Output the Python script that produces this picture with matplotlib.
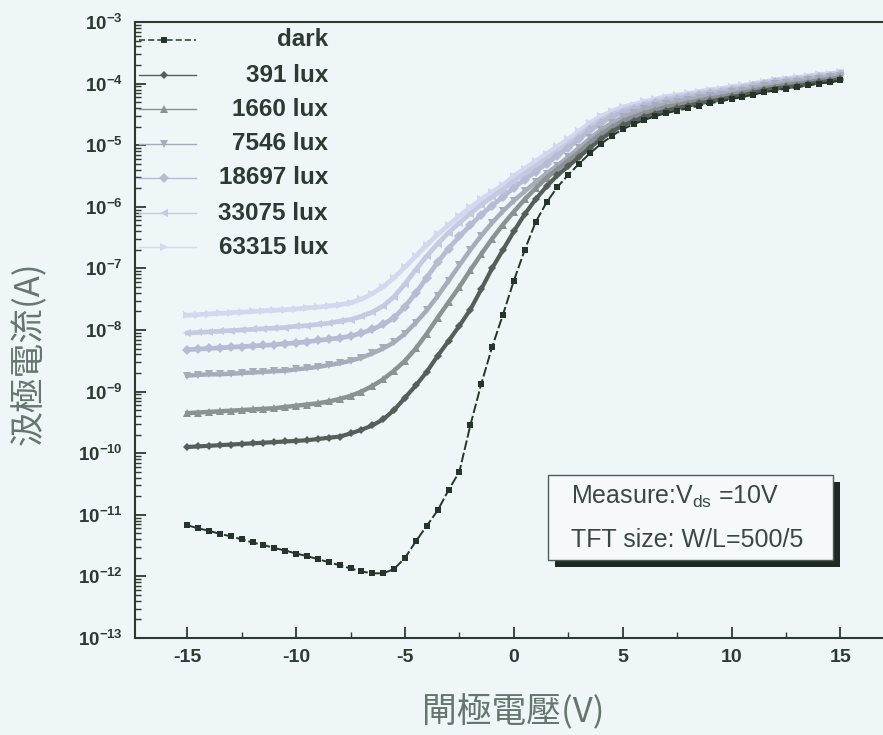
import numpy as np
import matplotlib
matplotlib.use('Agg')
import matplotlib.pyplot as plt
from matplotlib import ticker
from matplotlib.lines import Line2D
from matplotlib.patches import Rectangle

plt.rcParams['font.family'] = ['Liberation Sans', 'DejaVu Sans']
plt.rcParams['mathtext.fontset'] = 'custom'
plt.rcParams['mathtext.rm'] = 'Liberation Sans'
plt.rcParams['mathtext.it'] = 'Liberation Sans'
plt.rcParams['mathtext.bf'] = 'Liberation Sans:bold'
plt.rcParams['axes.unicode_minus'] = False

# Gate voltage sweep (V)
gate_voltage = [-15.0, -14.5, -14.0, -13.5, -13.0, -12.5, -12.0, -11.5, -11.0, -10.5,
                -10.0, -9.5, -9.0, -8.5, -8.0, -7.5, -7.0, -6.5, -6.0, -5.5,
                -5.0, -4.5, -4.0, -3.5, -3.0, -2.5, -2.0, -1.5, -1.0, -0.5,
                0.0, 0.5, 1.0, 1.5, 2.0, 2.5, 3.0, 3.5, 4.0, 4.5,
                5.0, 5.5, 6.0, 6.5, 7.0, 7.5, 8.0, 8.5, 9.0, 9.5,
                10.0, 10.5, 11.0, 11.5, 12.0, 12.5, 13.0, 13.5, 14.0, 14.5, 15.0]

# log10 of drain current (A)
log_id_dark = [-11.17, -11.22, -11.26, -11.31, -11.35, -11.40, -11.45, -11.49, -11.54, -11.58,
               -11.63, -11.67, -11.72, -11.77, -11.82, -11.87, -11.92, -11.95, -11.95, -11.88,
               -11.70, -11.43, -11.18, -10.93, -10.60, -10.30, -9.55, -8.88, -8.28, -7.75,
               -7.20, -6.70, -6.25, -5.93, -5.68, -5.48, -5.30, -5.13, -4.98, -4.85,
               -4.74, -4.66, -4.59, -4.53, -4.48, -4.44, -4.40, -4.36, -4.32, -4.29,
               -4.25, -4.22, -4.18, -4.14, -4.11, -4.08, -4.06, -4.03, -4.00, -3.98, -3.95]
log_id_391 = [-9.90, -9.89, -9.88, -9.87, -9.86, -9.85, -9.84, -9.83, -9.82, -9.81,
              -9.80, -9.79, -9.77, -9.75, -9.73, -9.68, -9.62, -9.55, -9.45, -9.30,
              -9.10, -8.90, -8.68, -8.42, -8.18, -7.93, -7.67, -7.34, -7.00, -6.70,
              -6.40, -6.12, -5.88, -5.67, -5.49, -5.34, -5.19, -5.04, -4.90, -4.78,
              -4.68, -4.61, -4.54, -4.49, -4.44, -4.40, -4.36, -4.32, -4.29, -4.26,
              -4.22, -4.19, -4.15, -4.11, -4.08, -4.06, -4.04, -4.01, -3.98, -3.96, -3.93]
log_id_1660 = [-9.35, -9.34, -9.33, -9.32, -9.31, -9.30, -9.29, -9.28, -9.27, -9.25,
               -9.23, -9.21, -9.19, -9.16, -9.12, -9.07, -9.00, -8.91, -8.80, -8.66,
               -8.50, -8.30, -8.06, -7.80, -7.55, -7.30, -7.03, -6.77, -6.52, -6.29,
               -6.08, -5.88, -5.70, -5.53, -5.39, -5.25, -5.11, -4.95, -4.82, -4.71,
               -4.61, -4.54, -4.48, -4.43, -4.38, -4.35, -4.31, -4.28, -4.24, -4.22,
               -4.18, -4.15, -4.11, -4.08, -4.05, -4.02, -4.00, -3.98, -3.95, -3.93, -3.90]
log_id_7546 = [-8.74, -8.73, -8.72, -8.72, -8.71, -8.70, -8.69, -8.68, -8.67, -8.66,
               -8.64, -8.62, -8.60, -8.57, -8.54, -8.50, -8.45, -8.38, -8.30, -8.20,
               -8.06, -7.88, -7.68, -7.45, -7.20, -6.95, -6.70, -6.47, -6.26, -6.07,
               -5.90, -5.75, -5.60, -5.46, -5.33, -5.19, -5.04, -4.89, -4.75, -4.64,
               -4.55, -4.48, -4.42, -4.37, -4.33, -4.30, -4.26, -4.23, -4.20, -4.18,
               -4.14, -4.12, -4.08, -4.04, -4.01, -3.99, -3.97, -3.95, -3.92, -3.90, -3.87]
log_id_18697 = [-8.32, -8.31, -8.30, -8.29, -8.28, -8.27, -8.26, -8.25, -8.24, -8.22,
                -8.21, -8.19, -8.17, -8.15, -8.13, -8.10, -8.05, -7.99, -7.91, -7.80,
                -7.62, -7.40, -7.15, -6.90, -6.68, -6.48, -6.30, -6.13, -5.98, -5.84,
                -5.69, -5.56, -5.43, -5.30, -5.17, -5.04, -4.90, -4.76, -4.64, -4.54,
                -4.47, -4.42, -4.37, -4.32, -4.28, -4.25, -4.22, -4.19, -4.16, -4.14,
                -4.10, -4.08, -4.04, -4.01, -3.98, -3.96, -3.94, -3.92, -3.89, -3.88, -3.85]
log_id_33075 = [-8.05, -8.04, -8.03, -8.02, -8.01, -8.00, -7.99, -7.98, -7.97, -7.96,
                -7.94, -7.93, -7.91, -7.89, -7.86, -7.83, -7.78, -7.71, -7.61, -7.46,
                -7.25, -7.02, -6.80, -6.60, -6.42, -6.26, -6.11, -5.97, -5.84, -5.72,
                -5.58, -5.46, -5.34, -5.22, -5.10, -4.98, -4.84, -4.70, -4.59, -4.50,
                -4.43, -4.38, -4.33, -4.29, -4.25, -4.22, -4.19, -4.16, -4.13, -4.11,
                -4.08, -4.06, -4.02, -3.99, -3.96, -3.94, -3.92, -3.90, -3.87, -3.86, -3.83]
log_id_63315 = [-7.76, -7.75, -7.74, -7.73, -7.72, -7.71, -7.70, -7.69, -7.68, -7.67,
                -7.66, -7.64, -7.63, -7.61, -7.59, -7.56, -7.50, -7.41, -7.30, -7.15,
                -6.98, -6.80, -6.62, -6.45, -6.30, -6.15, -6.01, -5.88, -5.76, -5.65,
                -5.50, -5.38, -5.26, -5.14, -5.02, -4.90, -4.77, -4.64, -4.53, -4.45,
                -4.38, -4.34, -4.29, -4.25, -4.21, -4.19, -4.16, -4.13, -4.10, -4.08,
                -4.05, -4.03, -4.00, -3.97, -3.94, -3.92, -3.90, -3.88, -3.85, -3.84, -3.81]

series_labels = ['dark', '391 lux', '1660 lux', '7546 lux', '18697 lux', '33075 lux', '63315 lux']
series_logs = [log_id_dark, log_id_391, log_id_1660, log_id_7546,
               log_id_18697, log_id_33075, log_id_63315]
series_colors = ['#263529', '#555e59', '#8b9294', '#a6acb9', '#b6bcd3', '#c5cae2', '#d3d8ef']
series_markers = ['s', 'D', '^', 'v', 'D', '<', '>']
series_ms = [4.2, 3.6, 5.4, 5.4, 4.8, 5.4, 5.4]
series_lw = [1.4, 3.0, 3.2, 3.2, 3.4, 3.4, 3.4]

x_ticks = [-15, -10, -5, 0, 5, 10, 15]

BG = '#eff6f7'
INK = '#2c3a32'

fig = plt.figure(figsize=(8.83, 7.35), dpi=100, facecolor=BG)
ax = fig.add_axes([0.1529, 0.1320, 0.8630, 0.8381], facecolor=BG)

V = np.array(gate_voltage)
for i in reversed(range(len(series_labels))):
    current = 10.0 ** np.array(series_logs[i])
    ls = (0, (5, 1.5)) if i == 0 else '-'
    ax.plot(V, current, color=series_colors[i], marker=series_markers[i],
            ms=series_ms[i], mew=0, lw=series_lw[i], ls=ls, zorder=10 - i)

ax.set_yscale('log')
ax.set_xlim(-17.4, 17.6)
ax.set_ylim(1e-13, 1e-3)
ax.xaxis.set_major_locator(ticker.FixedLocator(x_ticks))
ax.xaxis.set_minor_locator(ticker.MultipleLocator(2.5))
ax.yaxis.set_major_locator(ticker.LogLocator(base=10, numticks=20))
ax.yaxis.set_minor_locator(ticker.LogLocator(base=10, subs=np.arange(2, 10), numticks=20))
ax.yaxis.set_minor_formatter(ticker.NullFormatter())
ax.yaxis.set_major_formatter(ticker.FuncFormatter(
    lambda v, p: r'$\mathbf{10^{%d}}$' % int(round(np.log10(v)))))
ax.xaxis.set_major_formatter(ticker.FuncFormatter(lambda v, p: '%d' % v))

ax.tick_params(which='both', direction='in', color=INK, top=False, right=False)
ax.tick_params(which='major', length=8, width=1.3, labelsize=13.5, labelcolor=INK)
ax.tick_params(which='minor', length=4, width=1.0)
ax.tick_params(axis='y', which='major', pad=9)
ax.tick_params(axis='x', which='major', pad=8, labelsize=14)
for lab in ax.get_xticklabels():
    lab.set_fontweight('bold')
for sp in ax.spines.values():
    sp.set_color(INK)
    sp.set_linewidth(1.5)

cjk = ['Noto Sans CJK TC', 'DejaVu Sans']
ax.set_xlabel('閘極電壓(V)', fontsize=25, color='#66756d', family=cjk)
ax.set_ylabel('汲極電流(A)', fontsize=25, color='#66756d', family=cjk)
ax.xaxis.set_label_coords(0.496, -0.092)
ax.yaxis.set_label_coords(-0.116, 0.463)

# legend (drawn manually so that the labels are right-aligned like the original)
def fx(px):
    return px / 883.0

def fy(py):
    return (735.0 - py) / 735.0

row_y = [40, 75, 109, 144, 178, 213, 247]
for i, lab in enumerate(series_labels):
    y = fy(row_y[i])
    ls = (0, (4, 2)) if i == 0 else '-'
    lw = 1.1 if i == 0 else 1.0
    fig.add_artist(Line2D([fx(139), fx(196)], [y, y], transform=fig.transFigure,
                          color=series_colors[i], lw=lw, ls=ls, zorder=20))
    fig.add_artist(Line2D([fx(164)], [y], transform=fig.transFigure,
                          color=series_colors[i], marker=series_markers[i],
                          ms=series_ms[i] + 0.6, mew=0, ls='none', zorder=21))
    fig.text(fx(328), y, lab, ha='right', va='center', fontsize=17.5,
             fontweight='bold', color=INK, zorder=22)

# annotation box with shadow
bx0, bx1, by_top, by_bot = 548, 833, 475, 560
fig.add_artist(Rectangle((fx(bx0 + 7), fy(by_bot + 7)), fx(bx1) - fx(bx0), fy(by_top) - fy(by_bot),
                         transform=fig.transFigure, facecolor='#1e2a23', edgecolor='none', zorder=30))
fig.add_artist(Rectangle((fx(bx0), fy(by_bot)), fx(bx1) - fx(bx0), fy(by_top) - fy(by_bot),
                         transform=fig.transFigure, facecolor='#f5f9f9', edgecolor='#4d5d57',
                         lw=1.0, zorder=31))
fig.text(fx(571), fy(497), r'Measure:V$_{\rm ds}$ =10V', ha='left', va='center',
         fontsize=18, color='#3b4842', zorder=32)
fig.text(fx(571), fy(540), 'TFT size: W/L=500/5', ha='left', va='center',
         fontsize=18, color='#3b4842', zorder=32)

fig.savefig('out.png', dpi=100, facecolor=BG)
